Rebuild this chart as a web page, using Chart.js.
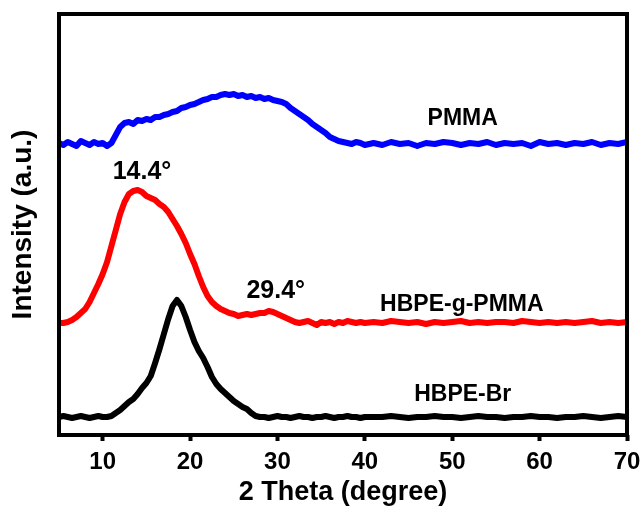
<!DOCTYPE html>
<html>
<head>
<meta charset="utf-8">
<script src="https://cdn.jsdelivr.net/npm/chart.js@4.4.1/dist/chart.umd.min.js"></script>
<style>
  html, body { margin: 0; padding: 0; background: #fff; }
  #wrap { width: 643px; height: 509px; }
</style>
</head>
<body>
<div id="wrap"><canvas id="xrd" width="643" height="509"></canvas></div>
<script>
// 2 theta positions (degree)
const theta = [
    5, 5.5, 6, 6.5, 7, 7.5, 8, 8.5, 9, 9.5, 10, 10.5, 11, 11.5, 12, 12.5, 13, 13.5, 14, 14.5,
    15, 15.5, 16, 16.5, 17, 17.5, 18, 18.5, 19, 19.5, 20, 20.5, 21, 21.5, 22, 22.5, 23, 23.5, 24, 24.5,
    25, 25.5, 26, 26.5, 27, 27.5, 28, 28.5, 29, 29.5, 30, 30.5, 31, 31.5, 32, 32.5, 33, 33.5, 34, 34.5,
    35, 35.5, 36, 36.5, 37, 37.5, 38, 38.5, 39, 39.5, 40,
    41, 42, 43, 44, 45, 46, 47, 48, 49, 50, 51, 52, 53, 54, 55, 56, 57, 58, 59, 60,
    61, 62, 63, 64, 65, 66, 67, 68, 69, 70
];

// intensities (a.u., curves already offset)
const hbpeBr = [
    18, 19, 18, 17, 18, 19, 18, 17, 18, 19, 18, 18,
    19, 22, 25, 29, 33, 36, 41, 47, 52, 59, 72, 86, 101, 116, 129, 135, 129, 118, 105, 93, 84, 77, 68, 58,
    51, 46, 42, 38, 34, 31, 28, 26, 22, 19, 18,
    18, 17, 18, 19, 18, 18, 17, 18, 19, 18, 18, 17, 18, 18, 19, 18, 17, 18, 18, 19, 18, 18, 17, 18,
    18, 18, 19, 18, 17, 18, 18, 19, 18, 18, 17, 18, 19, 18, 18, 17, 18, 18, 19, 18, 18, 17, 18, 18, 19, 18, 17, 18, 19, 18
];

const hbpeGPmma = [
    112, 112, 113, 115, 118, 122, 126, 133, 142, 151, 161, 173,
    189, 205, 221, 233, 241, 244, 245, 243, 239, 237,
    235, 231, 228, 223, 216, 209, 201, 192, 181, 171,
    159, 148, 139, 133, 129, 126, 124, 122, 121, 119,
    120, 121, 120, 121, 122, 122, 124, 123, 121, 119,
    117, 115, 113,
    112, 113, 114, 112, 110, 113, 112, 113, 111, 113, 112, 114, 113, 112, 113, 112,
    113, 112, 114, 113, 112, 113, 111, 113, 112, 113, 114, 112, 113, 112, 113, 113, 112, 114, 113, 112,
    113, 112, 113, 112, 113, 114, 112, 113, 112, 113
];

const pmma = [
    292, 290, 293, 291, 289, 294, 292, 290, 293, 291, 292, 289, 292,
    300, 308, 312, 313, 311, 315, 314, 316, 315, 318,
    318, 320, 321, 323, 324, 327, 328, 330, 331, 333,
    335, 336, 338, 338, 340, 341, 340, 341, 339, 340,
    338, 339, 337, 338, 336, 337, 335, 334, 333, 331,
    327, 324, 321, 318, 315, 311, 308, 305, 302, 298,
    296, 294, 293, 292,
    291, 293, 292, 290,
    292, 290, 293, 291, 292, 289, 292, 291, 293, 292, 290, 292, 291, 293, 290, 292, 291, 292, 289, 293,
    291, 292, 290, 292, 291, 293, 290, 292, 291, 293
];

const xTicks = [10, 20, 30, 40, 50, 60, 70];

// text placed in data coordinates
const notes = [
    { text: 'PMMA', x: 51.2, y: 316, big: false },
    { text: '14.4°', x: 14.5, y: 263, big: true },
    { text: '29.4°', x: 29.8, y: 144, big: true },
    { text: 'HBPE-g-PMMA', x: 51.1, y: 130, big: false },
    { text: 'HBPE-Br', x: 51.2, y: 40, big: false }
];

const FONT = '"Liberation Sans", Arial, sans-serif';

const toPoints = vals => vals.map((v, i) => ({ x: theta[i], y: v }));
const keepTicks = scale => { scale.ticks = xTicks.map(v => ({ value: v })); };

const framePlugin = {
    id: 'frame',
    afterDatasetsDraw(chart) {
        const { ctx, chartArea: a, scales } = chart;
        ctx.save();
        ctx.strokeStyle = '#000';
        ctx.lineWidth = 4;
        ctx.strokeRect(a.left, a.top, a.right - a.left, a.bottom - a.top);

        ctx.fillStyle = '#000';
        ctx.textAlign = 'center';
        ctx.textBaseline = 'middle';
        notes.forEach(n => {
            ctx.font = `bold ${n.big ? 25 : 23}px ${FONT}`;
            ctx.fillText(n.text, scales.x.getPixelForValue(n.x), scales.y.getPixelForValue(n.y));
        });
        ctx.restore();
    }
};

new Chart(document.getElementById('xrd'), {
    type: 'line',
    data: {
        datasets: [
            { label: 'PMMA', data: toPoints(pmma), borderColor: '#0000ff' },
            { label: 'HBPE-g-PMMA', data: toPoints(hbpeGPmma), borderColor: '#ff0000' },
            { label: 'HBPE-Br', data: toPoints(hbpeBr), borderColor: '#000000' }
        ]
    },
    options: {
        responsive: false,
        animation: false,
        layout: { padding: { left: 0, right: 16, top: 0, bottom: 0 } },
        elements: {
            line: { borderWidth: 6, tension: 0, borderJoinStyle: 'round', borderCapStyle: 'round' },
            point: { radius: 0 }
        },
        plugins: {
            legend: { display: false },
            tooltip: { enabled: false }
        },
        scales: {
            x: {
                type: 'linear',
                position: 'bottom',
                min: 5,
                max: 70,
                afterBuildTicks: keepTicks,
                afterFit: s => { s.height = 74; },
                border: { display: false },
                grid: { drawOnChartArea: false, drawTicks: true, tickLength: 6, tickWidth: 4, tickColor: '#000' },
                // small padding keeps the right edge where it is; lineHeight pushes labels down
                ticks: { color: '#000', padding: 2, maxRotation: 0, autoSkip: false, font: { family: FONT, size: 24, weight: 'bold', lineHeight: 1.6 } },
                title: {
                    display: true,
                    text: '2 Theta (degree)',
                    color: '#000',
                    padding: { top: 0, bottom: 0 },
                    font: { family: FONT, size: 27, weight: 'bold' }
                }
            },
            xTop: {
                type: 'linear',
                position: 'top',
                min: 5,
                max: 70,
                afterBuildTicks: keepTicks,
                afterFit: s => { s.height = 14; },
                border: { display: false },
                grid: { drawOnChartArea: false, drawTicks: true, tickLength: 2, tickWidth: 1, tickColor: '#000' },
                ticks: { display: false }
            },
            y: {
                min: 0,
                max: 421,
                afterFit: s => { s.width = 59; },
                border: { display: false },
                grid: { display: false },
                ticks: { display: false },
                title: {
                    display: true,
                    text: 'Intensity (a.u.)',
                    color: '#000',
                    padding: { top: 6, bottom: 0 },
                    font: { family: FONT, size: 28, weight: 'bold' }
                }
            }
        }
    },
    plugins: [framePlugin]
});
</script>
</body>
</html>
